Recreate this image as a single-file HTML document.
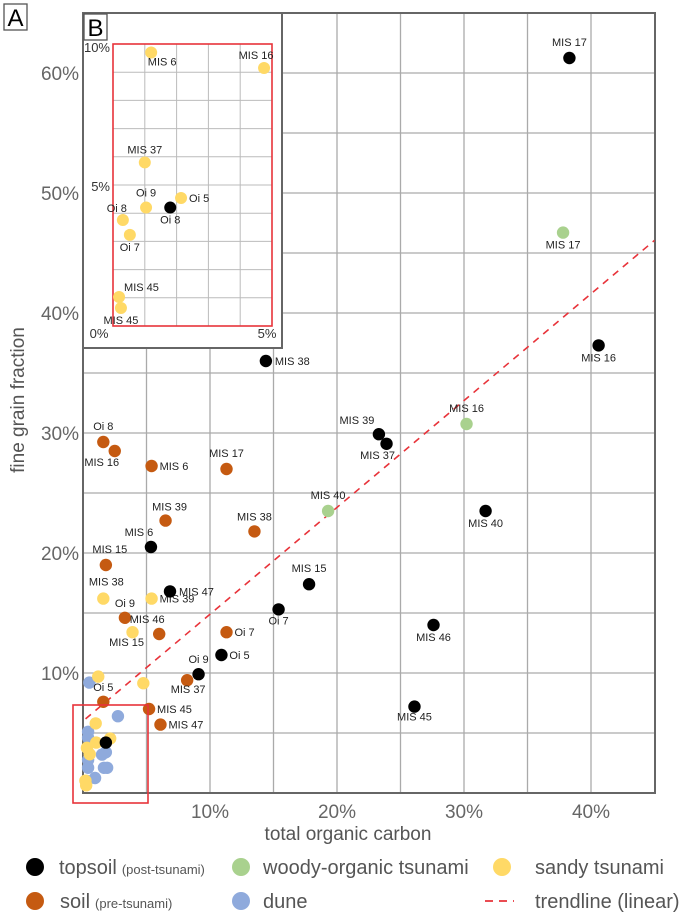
<!DOCTYPE html>
<html><head><meta charset="utf-8"><style>
body{margin:0;background:#fff}
svg{display:block;font-family:"Liberation Sans",sans-serif}
</style></head><body>
<svg id="c" width="690" height="916" viewBox="0 0 690 916"></svg>
<script>
// ---- data (x: total organic carbon %, y: fine grain fraction %) ----
const topX=[38.3,40.6,14.4,23.3,23.9,31.7,17.8,15.4,27.6,26.1,5.35,6.85,10.9,9.1,1.8];
const topY=[61.25,37.3,36.0,29.9,29.1,23.5,17.4,15.3,14.0,7.2,20.5,16.8,11.5,9.9,4.2];
const topN=["MIS 17","MIS 16","MIS 38","MIS 39","MIS 37","MIS 40","MIS 15","Oi 7","MIS 46","MIS 45","MIS 6","MIS 47","Oi 5","Oi 9","Oi 8"];
const woodX=[37.8,30.2,19.3];
const woodY=[46.7,30.75,23.5];
const woodN=["MIS 17","MIS 16","MIS 40"];
const soilX=[1.6,2.5,5.4,11.3,6.5,13.5,1.8,3.3,6.0,11.3,8.2,1.6,5.2,6.1];
const soilY=[29.25,28.5,27.25,27.0,22.7,21.8,19.0,14.6,13.25,13.4,9.4,7.6,7.0,5.7];
const soilN=["Oi 8","MIS 16","MIS 6","MIS 17","MIS 39","MIS 38","MIS 15","Oi 9","MIS 46","Oi 7","MIS 37","Oi 5","MIS 45","MIS 47"];
const sandX=[1.6,5.4,3.9,1.2,4.75,1.0,1.04,2.14,0.31,0.53,0.19,0.25];
const sandY=[16.2,16.2,13.4,9.7,9.15,5.8,4.2,4.54,3.76,3.23,1.03,0.64];
const sandN=["MIS 38","MIS 39","MIS 15","MIS 6","MIS 16","MIS 37","Oi 9","Oi 5","Oi 8","Oi 7","MIS 45","MIS 45"];
const duneX=[0.5,2.75,0.4,0.4,1.5,1.8,0.4,1.65,1.9,0.4,0.95,0.3];
const duneY=[9.2,6.4,5.1,4.6,3.2,3.4,2.75,2.1,2.1,2.1,1.25,1.0];
const trendIntercept=6.0, trendSlope=0.89;
const xTicks=[10,20,30,40];
const yTicks=[10,20,30,40,50,60];
const xTickLabels=["10%","20%","30%","40%"];
const yTickLabels=["10%","20%","30%","40%","50%","60%"];

// ---- label placement (dx, dy, anchor) — layout, not data ----
const topL=[[0,-12,"middle"],[0,16,"middle"],[9,4,"start"],[-22,-10,"middle"],[-9,15,"middle"],[0,16,"middle"],[0,-12,"middle"],[0,15,"middle"],[0,16,"middle"],[0,14,"middle"],[-12,-11,"middle"],[9,4,"start"],[8,4,"start"],[0,-11,"middle"],null];
const woodL=[[0,16,"middle"],[0,-12,"middle"],[0,-12,"middle"]];
const soilL=[[0,-12,"middle"],[-13,15,"middle"],[8,4,"start"],[0,-12,"middle"],[4,-10,"middle"],[0,-11,"middle"],[4,-12,"middle"],[0,-11,"middle"],[-12,-11,"middle"],[8,4,"start"],[1,13,"middle"],[0,-11,"middle"],[8,4,"start"],[8,4,"start"]];
const sandL=[[3,-13,"middle"],[8,4,"start"],[-6,14,"middle"],null,null,null,null,null,null,null,null,null];
const sandIL=[null,null,null,[11,13,"middle"],[-8,-9,"middle"],[0,-9,"middle"],[0,-11,"middle"],[8,4,"start"],[-6,-8,"middle"],[0,16,"middle"],[5,-6,"start"],[0,16,"middle"]];
const topIL=Array(15).fill(null); topIL[14]=[0,16,"middle"];

const NS="http://www.w3.org/2000/svg";
const svg=document.getElementById('c');
function mk(tag,attrs,parent){const e=document.createElementNS(NS,tag);for(const k in attrs)e.setAttribute(k,attrs[k]);(parent||svg).appendChild(e);return e;}
const X=v=>83+v*12.7, Y=v=>793-v*12;
const IX=v=>113+v*31.8, IY=v=>326-v*28.2;

const g=mk('g',{});


for(let v=5;v<45;v+=5){mk('line',{x1:X(v),x2:X(v),y1:13,y2:793,stroke:'#aaa','stroke-width':1.3},g);}
for(let v=5;v<65;v+=5){mk('line',{x1:83,x2:655,y1:Y(v),y2:Y(v),stroke:'#aaa','stroke-width':1.3},g);}
const fr=mk('rect',{x:83,y:13,width:572,height:780,fill:'none',stroke:'#666','stroke-width':2});



xTicks.forEach((v,i)=>{const t=mk('text',{x:X(v),y:818,'text-anchor':'middle','font-size':19,fill:'#666'});t.textContent=xTickLabels[i];

});
yTicks.forEach((v,i)=>{const t=mk('text',{x:79,y:Y(v)+7,'text-anchor':'end','font-size':19,fill:'#666'});t.textContent=yTickLabels[i];

});
let t=mk('text',{x:348,y:840,'text-anchor':'middle','font-size':19,fill:'#555'});t.textContent='total organic carbon';


t=mk('text',{x:24,y:400,'text-anchor':'middle','font-size':19,fill:'#555',transform:'rotate(-90 24 400)'});t.textContent='fine grain fraction';



const tl=mk('line',{x1:X(0.2),y1:Y(trendIntercept+trendSlope*0.2),x2:X(45),y2:Y(trendIntercept+trendSlope*45),stroke:'#e8333a','stroke-width':1.6,'stroke-dasharray':'7,6'});



function series(xs,ys,names,labels,color,name,fx,fy,r,fs,filter){
  const grp=mk('g',{});
  
  
  xs.forEach((x,i)=>{
    if(filter&&!filter(x,ys[i]))return;
    const cx=fx(x),cy=fy(ys[i]);
    const c=mk('circle',{cx:cx,cy:cy,r:r,fill:color},grp);
    
    
    const L=labels&&labels[i];
    if(L){const tt=mk('text',{x:cx+L[0],y:cy+L[1],'text-anchor':L[2],'font-size':fs,fill:'#222'},grp);tt.textContent=names[i];
      
      }
  });
}
series(duneX,duneY,null,null,'#8faadc','dune-series',X,Y,6.2,11);
series(sandX,sandY,sandN,sandL,'#ffd966','sandy-series',X,Y,6.2,11);
series(soilX,soilY,soilN,soilL,'#c55a11','soil-series',X,Y,6.2,11);
series(woodX,woodY,woodN,woodL,'#a9d18e','woody-series',X,Y,6.2,11);
series(topX,topY,topN,topL,'#000','topsoil-series',X,Y,6.2,11);

const zb=mk('rect',{x:73,y:705,width:75,height:98,fill:'none',stroke:'#e8333a','stroke-width':1.6});



const ig=mk('g',{});


mk('rect',{x:83,y:13,width:199,height:335,fill:'#fff',stroke:'#666','stroke-width':2},ig);
for(let v=1;v<5;v++)mk('line',{x1:IX(v),x2:IX(v),y1:IY(10),y2:IY(0),stroke:'#bbb','stroke-width':1},ig);
for(let v=1;v<10;v++)mk('line',{x1:IX(0),x2:IX(5),y1:IY(v),y2:IY(v),stroke:'#bbb','stroke-width':1},ig);
mk('rect',{x:IX(0),y:IY(10),width:IX(5)-IX(0),height:IY(0)-IY(10),fill:'none',stroke:'#e8333a','stroke-width':1.6},ig);
[[110,52,'end','10%'],[110,191,'end','5%'],[99,338,'middle','0%'],[267,338,'middle','5%']].forEach(a=>{const e=mk('text',{x:a[0],y:a[1],'text-anchor':a[2],'font-size':13,fill:'#333'},ig);e.textContent=a[3];

});
const inBox=(x,y)=>x<=5&&y<=10;
series(sandX,sandY,sandN,sandIL,'#ffd966','inset-sandy-series',IX,IY,6,11,inBox);
series(topX,topY,topN,topIL,'#000','inset-topsoil-series',IX,IY,6,11,inBox);

[[4,4,'A'],[84,14,'B']].forEach(a=>{const r=mk('rect',{x:a[0],y:a[1],width:23,height:26,fill:'#fff',stroke:'#555','stroke-width':1.3});


const e=mk('text',{x:a[0]+11.5,y:a[1]+22,'text-anchor':'middle','font-size':24,fill:'#000'});e.textContent=a[2];});

const lg=mk('g',{});


const legC=[[35,867,'#000'],[241,867,'#a9d18e'],[502,867,'#ffd966'],[35,901,'#c55a11'],[241,901,'#8faadc']];
legC.forEach(a=>mk('circle',{cx:a[0],cy:a[1],r:9,fill:a[2]},lg));
mk('line',{x1:485,x2:514,y1:901,y2:901,stroke:'#e8333a','stroke-width':1.8,'stroke-dasharray':'8,6'},lg);
function lt(x,y,main,small){const e=mk('text',{x:x,y:y,'font-size':20,fill:'#555'},lg);e.textContent=main;
 
 
 if(small){const s=mk('tspan',{'font-size':13,dx:5},e);s.textContent=small;}}
lt(59,874,'topsoil','(post-tsunami)');
lt(263,874,'woody-organic tsunami');
lt(535,874,'sandy tsunami');
lt(60,908,'soil','(pre-tsunami)');
lt(263,908,'dune');
lt(535,908,'trendline (linear)');
</script>
</body></html>
